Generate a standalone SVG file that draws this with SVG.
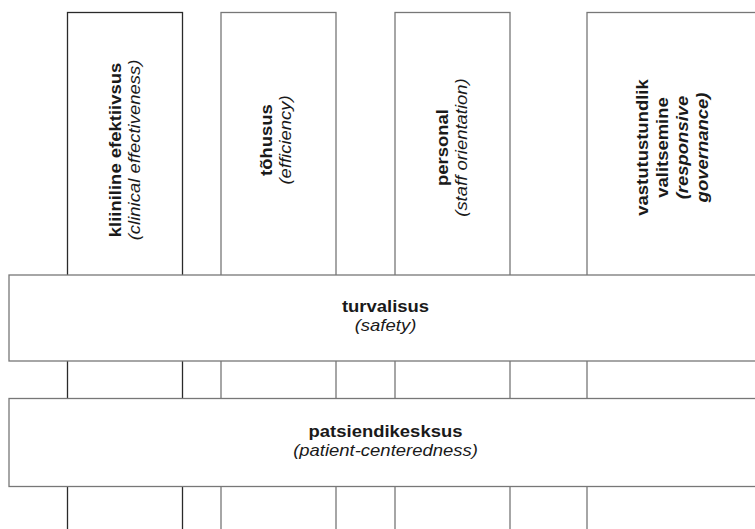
<svg xmlns="http://www.w3.org/2000/svg" width="755" height="529" viewBox="0 0 755 529">
<style>
.col{fill:#fff;stroke:#777;stroke-width:1.3}
.dark{stroke:#2a2a2a}
.band{fill:#fff;stroke:#777;stroke-width:1.3}
.b{font-family:"Liberation Sans",Arial,sans-serif;font-size:16.5px;font-weight:bold;fill:#1a1a1a;text-anchor:middle}
.i{font-family:"Liberation Sans",Arial,sans-serif;font-size:16.5px;font-style:italic;fill:#1a1a1a;text-anchor:middle}
.bi{font-family:"Liberation Sans",Arial,sans-serif;font-size:16.5px;font-style:italic;font-weight:bold;fill:#1a1a1a;text-anchor:middle}
</style>
<rect width="755" height="529" fill="#fff"/>
<g id="col-clinical">
<rect class="col dark" x="67.5" y="12.5" width="115" height="530"/>
<text class="b" transform="translate(120.5,150) rotate(-90) scale(1.12,1)">kliiniline efektiivsus</text>
<text class="i" transform="translate(139.5,150) rotate(-90) scale(1.12,1)">(clinical effectiveness)</text>
</g>
<g id="col-efficiency">
<rect class="col" x="221" y="12.5" width="115" height="530"/>
<text class="b" transform="translate(271.5,140) rotate(-90) scale(1.12,1)">tõhusus</text>
<text class="i" transform="translate(290.5,140) rotate(-90) scale(1.12,1)">(efficiency)</text>
</g>
<g id="col-staff">
<rect class="col" x="395" y="12.5" width="115" height="530"/>
<text class="b" transform="translate(447.5,147.5) rotate(-90) scale(1.12,1)">personal</text>
<text class="i" transform="translate(466.5,147.5) rotate(-90) scale(1.12,1)">(staff orientation)</text>
</g>
<g id="col-governance">
<rect class="col" x="587" y="12.5" width="200" height="530"/>
<text class="b" transform="translate(648,147.5) rotate(-90) scale(1.12,1)">vastutustundlik</text>
<text class="b" transform="translate(668,147.5) rotate(-90) scale(1.12,1)">valitsemine</text>
<text class="bi" transform="translate(688,147.5) rotate(-90) scale(1.12,1)">(responsive</text>
<text class="bi" transform="translate(708,147.5) rotate(-90) scale(1.12,1)">governance)</text>
</g>
<g id="band-safety">
<rect class="band" x="9" y="275" width="760" height="86"/>
<text class="b" transform="translate(385.5,312) scale(1.12,1)">turvalisus</text>
<text class="i" transform="translate(385.5,331) scale(1.12,1)">(safety)</text>
</g>
<g id="band-patient">
<rect class="band dark" x="9" y="398.5" width="760" height="88"/>
<text class="b" transform="translate(385.5,437) scale(1.12,1)">patsiendikesksus</text>
<text class="i" transform="translate(385.5,456) scale(1.12,1)">(patient-centeredness)</text>
</g>
<g id="connectors"></g>
</svg>
